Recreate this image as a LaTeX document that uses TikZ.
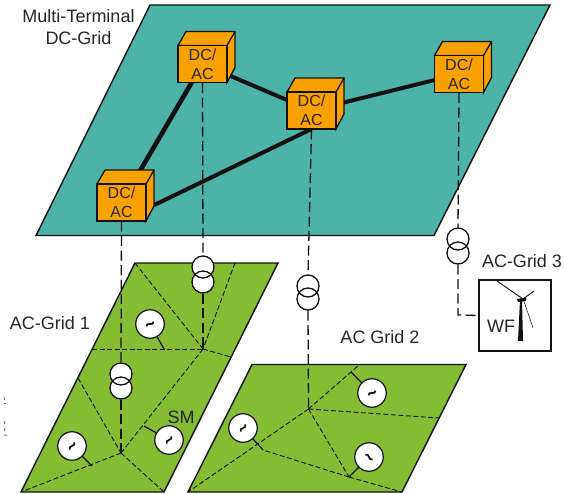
\documentclass[tikz,border=0pt]{standalone}
\usepackage{fontspec}
\usetikzlibrary{calc}
\setmainfont{Liberation Sans}
\definecolor{tealgrid}{HTML}{4CB3A6}
\definecolor{greengrid}{HTML}{85BC33}
\definecolor{cubeor}{HTML}{F9A100}
\definecolor{inkc}{HTML}{111111}
\tikzset{
  platedc/.style={draw=inkc,line width=1.4pt,fill=tealgrid,line join=miter},
  plateac/.style={draw=inkc,line width=1.4pt,fill=greengrid,line join=miter},
  dcline/.style={draw=inkc,line width=4pt},
  feeder/.style={draw=inkc,line width=1.3pt,dash pattern=on 10pt off 4.5pt},
  branch/.style={draw=inkc,line width=.9pt,dash pattern=on 5pt off 2.5pt},
  stem/.style={draw=inkc,line width=1.2pt},
  cubefront/.style={draw=inkc,line width=1.3pt,fill=cubeor,minimum width=49pt,minimum height=37pt,inner sep=0pt,align=center,font=\fontsize{16}{19}\selectfont,text=black!85},
  cubeside/.style={draw=inkc,line width=1.3pt,fill=cubeor,line join=miter},
  winding/.style={circle,draw=inkc,line width=1.3pt,minimum size=22pt,inner sep=0pt},
  gener/.style={circle,draw=inkc,line width=1.2pt,fill=white,minimum size=28.5pt,inner sep=0pt},
  lbl/.style={inner sep=0pt,align=center,font=\fontsize{18}{22}\selectfont,text=black!85},
  speck/.style={draw=black!55,line width=1pt},
}
\newcommand{\cubeat}[4]{% name, cx, cy
  \filldraw[cubeside] (#2-24.5,#3-18.5) -- ++(8,-14) -- ++(49,0) -- ++(0,36) -- ++(-8,15) -- ++(0,-37) -- ++(-49,0) -- cycle;
  \node[cubefront] (#1) at (#2,#3) {#4};
  \draw[cubeside,fill=none] (#2+24.5,#3-18.5) -- ++(8,-14);
}
\newcommand{\trafoat}[4]{% name, x, y upper, y lower
  \fill[white] (#2,#3) circle (11pt) (#2,#4) circle (11pt);
  \node[winding] (#1a) at (#2,#3) {};
  \node[winding] (#1b) at (#2,#4) {};
}
\newcommand{\genat}[4]{% name, x, y, tilt
  \node[gener] (#1) at (#2,#3) {};
  \draw[inkc,line width=1.7pt,shift={(#1.center)},rotate=#4] (-4.2,0) .. controls (-1.8,-4.5) and (1.8,4.5) .. (4.2,0);
}
\begin{document}
\begin{tikzpicture}[x=1pt,y=-1pt]
\useasboundingbox (0,0) rectangle (564,493);
% plates
\draw[platedc] (150,5) -- (550,5) -- (434,235.5) -- (36,235.5) -- cycle;
\draw[plateac] (135,263) -- (278,263) -- (164,492) -- (21,492) -- cycle;
\draw[plateac] (252,364.5) -- (466,364.5) -- (402,492) -- (188,492) -- cycle;
% grid points
\coordinate (bA) at (203,349);
\coordinate (bB) at (121,453);
\coordinate (bC) at (308.5,409);
\coordinate (bD) at (349,477);
\coordinate (bE) at (263,450);
\coordinate (g1nw) at (135,263);
\coordinate (g1ne) at (235,263);
\coordinate (g1e) at (231,357);
\coordinate (g1w) at (92,349);
\coordinate (g1sw) at (78,378);
\coordinate (g1bl) at (21,492);
\coordinate (g1br) at (164,492);
\coordinate (g2n) at (359,365);
\coordinate (g2e) at (439,418);
\coordinate (g2bl) at (188,492);
\coordinate (g2br) at (402,492);
\coordinate (s1) at (164,349);
\coordinate (s2) at (144,426);
\coordinate (s3) at (92,466);
\coordinate (s4) at (351,372);
\coordinate (wfbend) at (458,315);
% branches
\draw[branch] (g1nw) -- (bA);
\draw[branch] (g1ne) -- (bA);
\draw[branch] (bA) -- (g1e);
\draw[branch] (g1w) -- (bA);
\draw[branch] (bA) -- (bB);
\draw[branch] (g1sw) -- (bB);
\draw[branch] (bB) -- (g1bl);
\draw[branch] (bB) -- (g1br);
\draw[branch] (bC) -- (g2n);
\draw[branch] (bC) -- (g2e);
\draw[branch] (bC) -- (g2bl);
\draw[branch] (bC) -- (bD);
\draw[branch] (bD) -- (g2br);
\draw[branch] (bD) -- (bE);
% DC lines and cubes
\coordinate (cA) at (121.5,202.5);
\coordinate (cB) at (202.5,64);
\coordinate (cC) at (311.5,110.5);
\coordinate (cD) at (459,74);
\draw[dcline,line width=4.6pt] (cA) -- (cB);
\draw[dcline] (cB) -- (cC);
\draw[dcline] (cC) -- (cD);
\draw[dcline] ($(cC)+(0,18.5)$) -- ($(cA)+(24.5,6.5)$);
\cubeat{convA}{121.5}{202.5}{DC/\\AC}
\cubeat{convB}{202.5}{64}{DC/\\AC}
\cubeat{convC}{311.5}{110.5}{DC/\\AC}
\cubeat{convD}{459}{74}{DC/\\AC}
% WF box
\node[draw=inkc,line width=1.4pt,fill=white,minimum width=72pt,minimum height=71pt,inner sep=0pt] (wf) at (515,315.5) {};
\node[lbl] (wflabel) at (501,326) {WF};
% transformers
\trafoat{tA}{121}{374}{388}
\trafoat{tB}{203}{267}{282}
\trafoat{tC}{308}{286}{299}
\trafoat{tD}{458}{239}{253}
% feeders
\draw[feeder] (convA.south) -- (tAa.north);
\draw[feeder] (tAb.south) -- (bB);
\draw[feeder] (convB.south) -- (tBa.north);
\draw[feeder] (tBb.south) -- (bA);
\draw[feeder] (convC.south) -- (tCa.north);
\draw[feeder] (tCb.south) -- (bC);
\draw[feeder] (convD.south) -- (tDa.north);
\draw[feeder] (tDb.south) -- (wfbend) -- (wf.west);
% generators
\draw[stem] (150,324) -- (s1);
\draw[stem] (169,440) -- (s2);
\draw[stem] (72,446) -- (s3);
\draw[stem] (243,428) -- (bE);
\draw[stem] (372,393) -- (s4);
\draw[stem] (369,457) -- (bD);
\genat{gA}{150}{324}{35}
\genat{gB}{169}{440}{60}
\genat{gC}{72}{446}{60}
\genat{gD}{243}{428}{60}
\genat{gE}{372}{393}{35}
\genat{gF}{369}{457}{-30}
% turbine
\fill[inkc] (518,341) -- (523,341) -- (522,300) -- (520,300) -- cycle;
\fill[inkc] (517,299) -- (526,297.5) -- (526,301) -- (518,302) -- cycle;
\draw[inkc,line width=.9pt] (523,299) -- (497,281);
\draw[inkc,line width=.9pt] (523,299) -- (534,291);
\draw[inkc,line width=.5pt] (523,299) .. controls (527,310) .. (533,328);
% labels
\node[lbl] (lDC) at (78.5,27) {Multi-Terminal\\DC-Grid};
\node[lbl] (l1) at (50,323) {AC-Grid 1};
\node[lbl] (lSM) at (181,417) {SM};
\node[lbl] (l2) at (380,337) {AC Grid 2};
\node[lbl] (l3) at (522,261) {AC-Grid 3};
% stray marks at the left margin
\draw[speck] (4.5,397) -- (4.5,400) (4,403.5) -- (6,403.5);
\draw[speck] (4.5,421) -- (4.5,424) (5,428) -- (4.5,431) (4,435) -- (7,435);
\end{tikzpicture}
\end{document}
